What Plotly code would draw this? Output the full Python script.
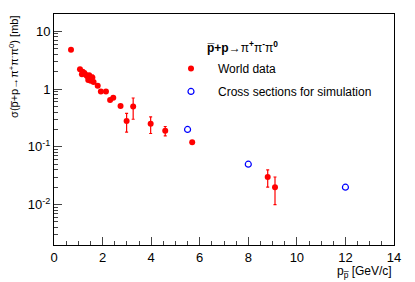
import plotly.graph_objects as go

# World data: antiproton momentum [GeV/c] and cross section [mb]
p_data = [0.70, 1.07, 1.15, 1.18, 1.25, 1.32, 1.37, 1.41, 1.45, 1.51, 1.58, 1.63,
          1.80, 1.93, 2.14, 2.31, 2.44, 2.74, 2.99, 3.26, 3.98, 4.58, 5.69, 8.80, 9.10]
sigma_data = [4.8, 2.2, 1.8, 1.99, 1.9, 1.75, 1.67, 1.43, 1.74, 1.39, 1.59, 1.32,
              1.14, 0.91, 0.91, 0.65, 0.71, 0.51, 0.28, 0.50, 0.25, 0.19, 0.12, 0.030, 0.020]
sigma_err = [0.15, 0.08, 0.07, 0.08, 0.08, 0.07, 0.07, 0.06, 0.07, 0.06, 0.15, 0.06,
             0.05, 0.04, 0.04, 0.03, 0.03, 0.02, 0.10, 0.20, 0.08, 0.035, 0.005, 0.010, 0.010]

# Cross sections for simulation
p_sim = [5.5, 8.0, 12.0]
sigma_sim = [0.20, 0.05, 0.02]

x_ticks = [0, 2, 4, 6, 8, 10, 12, 14]
y_tickvals = [0.01, 0.1, 1, 10]
y_ticktext = ["10<sup>-2</sup>", "10<sup>-1</sup>", "1", "10"]
y_minor = [m * d for d in [0.001, 0.01, 0.1, 1, 10] for m in range(2, 10)]

FONT = "Liberation Sans, Arial, sans-serif"
PB = "p\u0305"

fig = go.Figure()
fig.add_trace(go.Scatter(
    x=p_data, y=sigma_data, mode="markers", name="World data", legendgroup="a",
    marker=dict(color="#ff0000", size=6),
    error_y=dict(type="data", array=sigma_err, color="#ff0000", thickness=1.2, width=1.5),
    hoverinfo="skip",
))
fig.add_trace(go.Scatter(
    x=p_sim, y=sigma_sim, mode="markers", name="Cross sections for simulation",
    legendgroup="b",
    marker=dict(color="#0000ff", size=6, symbol="circle-open", line=dict(width=1.2)),
    hoverinfo="skip",
))

fig.update_layout(
    width=415, height=282,
    margin=dict(l=54, r=21, t=14, b=37),
    paper_bgcolor="white", plot_bgcolor="white",
    font=dict(family=FONT, size=13, color="black"),
    showlegend=True,
    legend=dict(x=0.3235, y=0.827, xanchor="left", yanchor="top",
                bgcolor="rgba(0,0,0,0)", font=dict(size=12, family=FONT),
                itemwidth=44, tracegroupgap=4),
    xaxis=dict(range=[0, 14], tickvals=x_ticks, ticks="inside", ticklen=8,
               showgrid=False, zeroline=False, showline=True, linecolor="black",
               linewidth=1, mirror=True,
               minor=dict(ticks="inside", ticklen=4, dtick=0.5, showgrid=False),
               tickfont=dict(size=13)),
    yaxis=dict(type="log", range=[-2.7, 1.3], tickvals=y_tickvals, ticktext=y_ticktext,
               ticks="inside", ticklen=8, showgrid=False, zeroline=False,
               showline=True, linecolor="black", linewidth=1, mirror=True,
               minor=dict(ticks="inside", ticklen=4, tickvals=y_minor, showgrid=False),
               tickfont=dict(size=13)),
)

fig.add_annotation(
    text=(f"<b>{PB}+p</b>→π<sup><b>+</b></sup>π<sup><b>-</b></sup>"
          f"π<sup><b>0</b></sup>"),
    xref="paper", yref="paper", x=0.444, y=0.857, xanchor="left", yanchor="middle",
    showarrow=False, font=dict(size=12, family=FONT))

fig.add_annotation(
    text=f"σ({PB}+p→π<sup>+</sup>π<sup>-</sup>π<sup>0</sup>) [mb]",
    xref="paper", yref="paper", x=-0.118, y=1.0, xanchor="center", yanchor="top",
    textangle=-90, showarrow=False, font=dict(size=11, family=FONT))

fig.add_annotation(
    text=f"p<sub>{PB}</sub> [GeV/c]",
    xref="paper", yref="paper", x=1.0, y=-0.075, xanchor="right", yanchor="top",
    showarrow=False, font=dict(size=12, family=FONT))

fig.write_html("out.html", config={"displayModeBar": False, "staticPlot": True},
               post_script="document.body.style.margin='0';document.body.style.padding='0';")
